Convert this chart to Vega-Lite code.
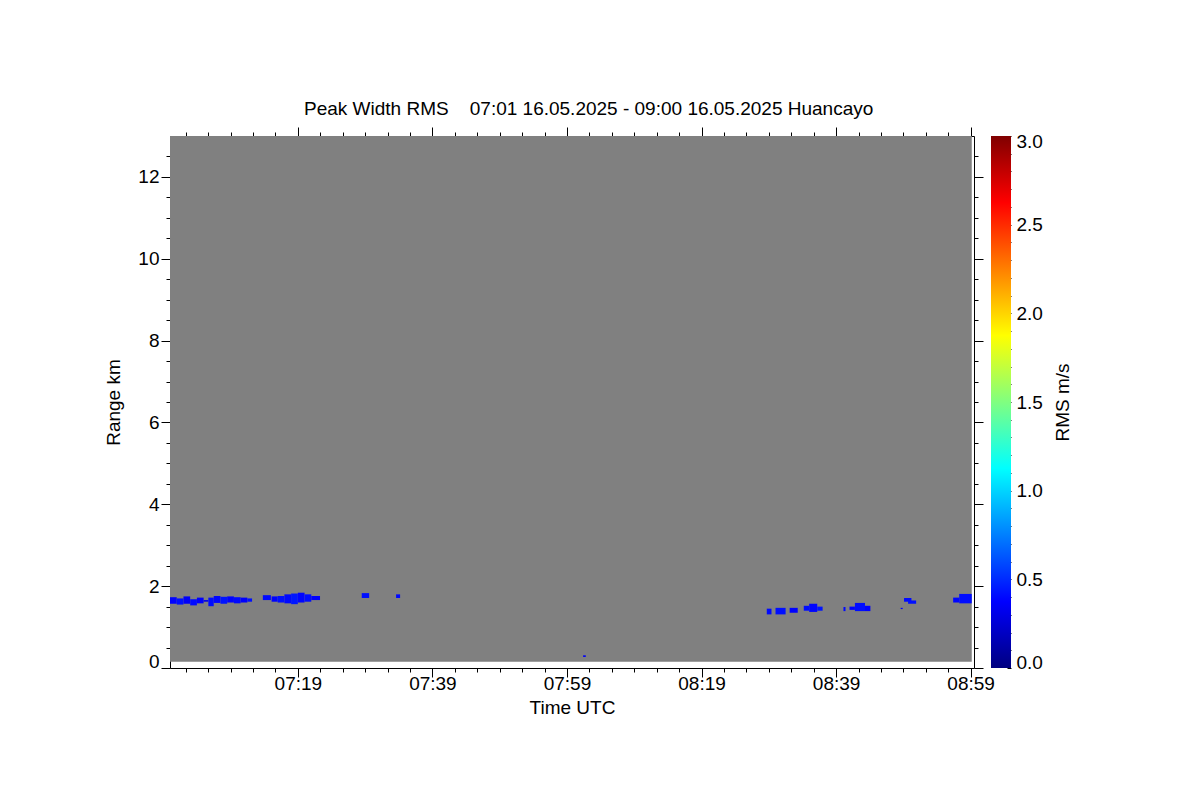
{
  "$schema": "https://vega.github.io/schema/vega-lite/v6.json",
  "background": "white",
  "padding": {"left": 104, "top": 99, "right": 10, "bottom": 10},
  "title": {"text": "Peak Width RMS\u00a0\u00a0\u00a0 07:01 16.05.2025 - 09:00 16.05.2025 Huancayo", "anchor": "middle", "font": "Liberation Sans", "fontSize": 19, "fontWeight": "normal", "color": "black", "offset": 8},
  "config": {
    "view": {"stroke": null},
    "axis": {"labelFont": "Liberation Sans", "titleFont": "Liberation Sans", "labelFontSize": 19, "titleFontSize": 19, "titleFontWeight": "normal", "labelColor": "black", "titleColor": "black", "domainColor": "black", "tickColor": "black", "grid": false, "labelPadding": 2}
  },
  "datasets": {
    "background": [{"start": "2025-05-16T07:00:00", "end": "2025-05-16T08:59:10", "lo": 0.15, "hi": 13}],
    "colorbar": [{"lo": 0, "hi": 3}],
    "cells": [
      {"t0": "2025-05-16T07:00:00", "t1": "2025-05-16T07:01:00", "r0": 1.57, "r1": 1.73, "rms": 0.38},
      {"t0": "2025-05-16T07:01:00", "t1": "2025-05-16T07:02:00", "r0": 1.55, "r1": 1.70, "rms": 0.42},
      {"t0": "2025-05-16T07:02:00", "t1": "2025-05-16T07:03:00", "r0": 1.57, "r1": 1.75, "rms": 0.36},
      {"t0": "2025-05-16T07:03:00", "t1": "2025-05-16T07:04:00", "r0": 1.53, "r1": 1.68, "rms": 0.40},
      {"t0": "2025-05-16T07:04:00", "t1": "2025-05-16T07:05:00", "r0": 1.58, "r1": 1.72, "rms": 0.37},
      {"t0": "2025-05-16T07:05:00", "t1": "2025-05-16T07:05:42", "r0": 1.62, "r1": 1.66, "rms": 0.30},
      {"t0": "2025-05-16T07:05:42", "t1": "2025-05-16T07:06:30", "r0": 1.51, "r1": 1.72, "rms": 0.41},
      {"t0": "2025-05-16T07:06:30", "t1": "2025-05-16T07:07:30", "r0": 1.59, "r1": 1.76, "rms": 0.39},
      {"t0": "2025-05-16T07:07:30", "t1": "2025-05-16T07:08:30", "r0": 1.57, "r1": 1.74, "rms": 0.43},
      {"t0": "2025-05-16T07:08:30", "t1": "2025-05-16T07:09:30", "r0": 1.60, "r1": 1.75, "rms": 0.38},
      {"t0": "2025-05-16T07:09:30", "t1": "2025-05-16T07:10:30", "r0": 1.58, "r1": 1.73, "rms": 0.40},
      {"t0": "2025-05-16T07:10:30", "t1": "2025-05-16T07:11:30", "r0": 1.60, "r1": 1.72, "rms": 0.37},
      {"t0": "2025-05-16T07:11:30", "t1": "2025-05-16T07:12:12", "r0": 1.62, "r1": 1.70, "rms": 0.42},
      {"t0": "2025-05-16T07:13:48", "t1": "2025-05-16T07:15:00", "r0": 1.66, "r1": 1.78, "rms": 0.40},
      {"t0": "2025-05-16T07:15:06", "t1": "2025-05-16T07:16:00", "r0": 1.62, "r1": 1.75, "rms": 0.38},
      {"t0": "2025-05-16T07:16:00", "t1": "2025-05-16T07:17:00", "r0": 1.60, "r1": 1.76, "rms": 0.42},
      {"t0": "2025-05-16T07:17:00", "t1": "2025-05-16T07:18:00", "r0": 1.58, "r1": 1.80, "rms": 0.40},
      {"t0": "2025-05-16T07:18:00", "t1": "2025-05-16T07:19:00", "r0": 1.56, "r1": 1.82, "rms": 0.44},
      {"t0": "2025-05-16T07:19:00", "t1": "2025-05-16T07:20:00", "r0": 1.60, "r1": 1.84, "rms": 0.39},
      {"t0": "2025-05-16T07:20:00", "t1": "2025-05-16T07:21:00", "r0": 1.62, "r1": 1.80, "rms": 0.41},
      {"t0": "2025-05-16T07:21:00", "t1": "2025-05-16T07:22:18", "r0": 1.66, "r1": 1.76, "rms": 0.37},
      {"t0": "2025-05-16T07:28:30", "t1": "2025-05-16T07:29:36", "r0": 1.71, "r1": 1.83, "rms": 0.42},
      {"t0": "2025-05-16T07:33:36", "t1": "2025-05-16T07:34:12", "r0": 1.71, "r1": 1.80, "rms": 0.40},
      {"t0": "2025-05-16T08:01:24", "t1": "2025-05-16T08:01:48", "r0": 0.27, "r1": 0.31, "rms": 0.35},
      {"t0": "2025-05-16T08:28:42", "t1": "2025-05-16T08:29:24", "r0": 1.31, "r1": 1.45, "rms": 0.40},
      {"t0": "2025-05-16T08:30:00", "t1": "2025-05-16T08:31:30", "r0": 1.31, "r1": 1.47, "rms": 0.42},
      {"t0": "2025-05-16T08:32:06", "t1": "2025-05-16T08:33:18", "r0": 1.35, "r1": 1.47, "rms": 0.38},
      {"t0": "2025-05-16T08:34:12", "t1": "2025-05-16T08:35:00", "r0": 1.40, "r1": 1.52, "rms": 0.41},
      {"t0": "2025-05-16T08:35:00", "t1": "2025-05-16T08:36:12", "r0": 1.37, "r1": 1.57, "rms": 0.39},
      {"t0": "2025-05-16T08:36:12", "t1": "2025-05-16T08:37:00", "r0": 1.40, "r1": 1.50, "rms": 0.43},
      {"t0": "2025-05-16T08:40:06", "t1": "2025-05-16T08:40:24", "r0": 1.39, "r1": 1.49, "rms": 0.40},
      {"t0": "2025-05-16T08:41:00", "t1": "2025-05-16T08:41:48", "r0": 1.42, "r1": 1.50, "rms": 0.38},
      {"t0": "2025-05-16T08:41:48", "t1": "2025-05-16T08:43:18", "r0": 1.39, "r1": 1.59, "rms": 0.41},
      {"t0": "2025-05-16T08:43:18", "t1": "2025-05-16T08:44:06", "r0": 1.39, "r1": 1.52, "rms": 0.37},
      {"t0": "2025-05-16T08:48:36", "t1": "2025-05-16T08:48:54", "r0": 1.44, "r1": 1.47, "rms": 0.36},
      {"t0": "2025-05-16T08:49:06", "t1": "2025-05-16T08:50:12", "r0": 1.62, "r1": 1.71, "rms": 0.40},
      {"t0": "2025-05-16T08:49:42", "t1": "2025-05-16T08:50:54", "r0": 1.57, "r1": 1.65, "rms": 0.42},
      {"t0": "2025-05-16T08:56:24", "t1": "2025-05-16T08:57:18", "r0": 1.60, "r1": 1.72, "rms": 0.39},
      {"t0": "2025-05-16T08:57:18", "t1": "2025-05-16T08:59:10", "r0": 1.58, "r1": 1.81, "rms": 0.41}
    ]
  },
  "spacing": 17,
  "bounds": "flush",
  "hconcat": [
    {
      "width": 804,
      "height": 532,
      "layer": [
        {
          "data": {"name": "background"},
          "mark": {"type": "rect", "color": "#808080"},
          "encoding": {
            "x": {"field": "start", "type": "temporal",
              "scale": {"domain": [{"year": 2025, "month": 5, "date": 16, "hours": 7, "minutes": 0, "seconds": 0}, {"year": 2025, "month": 5, "date": 16, "hours": 8, "minutes": 59, "seconds": 30}], "nice": false},
              "axis": {"orient": "bottom", "title": "Time UTC", "titlePadding": 5, "labelPadding": -3,
                "values": [
                  {"year": 2025, "month": 5, "date": 16, "hours": 7, "minutes": 2, "seconds": 20},
                  {"year": 2025, "month": 5, "date": 16, "hours": 7, "minutes": 5, "seconds": 40},
                  {"year": 2025, "month": 5, "date": 16, "hours": 7, "minutes": 9, "seconds": 0},
                  {"year": 2025, "month": 5, "date": 16, "hours": 7, "minutes": 12, "seconds": 20},
                  {"year": 2025, "month": 5, "date": 16, "hours": 7, "minutes": 15, "seconds": 40},
                  {"year": 2025, "month": 5, "date": 16, "hours": 7, "minutes": 19, "seconds": 0},
                  {"year": 2025, "month": 5, "date": 16, "hours": 7, "minutes": 22, "seconds": 20},
                  {"year": 2025, "month": 5, "date": 16, "hours": 7, "minutes": 25, "seconds": 40},
                  {"year": 2025, "month": 5, "date": 16, "hours": 7, "minutes": 29, "seconds": 0},
                  {"year": 2025, "month": 5, "date": 16, "hours": 7, "minutes": 32, "seconds": 20},
                  {"year": 2025, "month": 5, "date": 16, "hours": 7, "minutes": 35, "seconds": 40},
                  {"year": 2025, "month": 5, "date": 16, "hours": 7, "minutes": 39, "seconds": 0},
                  {"year": 2025, "month": 5, "date": 16, "hours": 7, "minutes": 42, "seconds": 20},
                  {"year": 2025, "month": 5, "date": 16, "hours": 7, "minutes": 45, "seconds": 40},
                  {"year": 2025, "month": 5, "date": 16, "hours": 7, "minutes": 49, "seconds": 0},
                  {"year": 2025, "month": 5, "date": 16, "hours": 7, "minutes": 52, "seconds": 20},
                  {"year": 2025, "month": 5, "date": 16, "hours": 7, "minutes": 55, "seconds": 40},
                  {"year": 2025, "month": 5, "date": 16, "hours": 7, "minutes": 59, "seconds": 0},
                  {"year": 2025, "month": 5, "date": 16, "hours": 8, "minutes": 2, "seconds": 20},
                  {"year": 2025, "month": 5, "date": 16, "hours": 8, "minutes": 5, "seconds": 40},
                  {"year": 2025, "month": 5, "date": 16, "hours": 8, "minutes": 9, "seconds": 0},
                  {"year": 2025, "month": 5, "date": 16, "hours": 8, "minutes": 12, "seconds": 20},
                  {"year": 2025, "month": 5, "date": 16, "hours": 8, "minutes": 15, "seconds": 40},
                  {"year": 2025, "month": 5, "date": 16, "hours": 8, "minutes": 19, "seconds": 0},
                  {"year": 2025, "month": 5, "date": 16, "hours": 8, "minutes": 22, "seconds": 20},
                  {"year": 2025, "month": 5, "date": 16, "hours": 8, "minutes": 25, "seconds": 40},
                  {"year": 2025, "month": 5, "date": 16, "hours": 8, "minutes": 29, "seconds": 0},
                  {"year": 2025, "month": 5, "date": 16, "hours": 8, "minutes": 32, "seconds": 20},
                  {"year": 2025, "month": 5, "date": 16, "hours": 8, "minutes": 35, "seconds": 40},
                  {"year": 2025, "month": 5, "date": 16, "hours": 8, "minutes": 39, "seconds": 0},
                  {"year": 2025, "month": 5, "date": 16, "hours": 8, "minutes": 42, "seconds": 20},
                  {"year": 2025, "month": 5, "date": 16, "hours": 8, "minutes": 45, "seconds": 40},
                  {"year": 2025, "month": 5, "date": 16, "hours": 8, "minutes": 49, "seconds": 0},
                  {"year": 2025, "month": 5, "date": 16, "hours": 8, "minutes": 52, "seconds": 20},
                  {"year": 2025, "month": 5, "date": 16, "hours": 8, "minutes": 55, "seconds": 40},
                  {"year": 2025, "month": 5, "date": 16, "hours": 8, "minutes": 59, "seconds": 0}
                ],
                "labelExpr": "(minutes(datum.value) % 20 == 19 && seconds(datum.value) == 0) ? timeFormat(datum.value, '%H:%M') : ''",
                "tickSize": {"condition": {"test": "minutes(datum.value) % 20 == 19 && seconds(datum.value) == 0", "value": 9}, "value": 4}
              }
            },
            "x2": {"field": "end"},
            "y": {"field": "lo", "type": "quantitative",
              "scale": {"domain": [0, 13], "nice": false, "zero": false},
              "axis": {"orient": "left", "title": "Range km", "titlePadding": 14, "labelFlush": true, "labelFlushOffset": 3,
                "values": [0, 0.5, 1, 1.5, 2, 2.5, 3, 3.5, 4, 4.5, 5, 5.5, 6, 6.5, 7, 7.5, 8, 8.5, 9, 9.5, 10, 10.5, 11, 11.5, 12, 12.5],
                "labelExpr": "datum.value % 2 == 0 ? format(datum.value, 'd') : ''",
                "tickSize": {"condition": {"test": "datum.value % 2 == 0", "value": 9}, "value": 4}
              }
            },
            "y2": {"field": "hi"}
          }
        },
        {
          "data": {"name": "cells"},
          "mark": {"type": "rect"},
          "encoding": {
            "x": {"field": "t0", "type": "temporal",
              "axis": {"orient": "top", "title": null, "labels": false,
                "values": [
                  {"year": 2025, "month": 5, "date": 16, "hours": 7, "minutes": 2, "seconds": 20},
                  {"year": 2025, "month": 5, "date": 16, "hours": 7, "minutes": 5, "seconds": 40},
                  {"year": 2025, "month": 5, "date": 16, "hours": 7, "minutes": 9, "seconds": 0},
                  {"year": 2025, "month": 5, "date": 16, "hours": 7, "minutes": 12, "seconds": 20},
                  {"year": 2025, "month": 5, "date": 16, "hours": 7, "minutes": 15, "seconds": 40},
                  {"year": 2025, "month": 5, "date": 16, "hours": 7, "minutes": 19, "seconds": 0},
                  {"year": 2025, "month": 5, "date": 16, "hours": 7, "minutes": 22, "seconds": 20},
                  {"year": 2025, "month": 5, "date": 16, "hours": 7, "minutes": 25, "seconds": 40},
                  {"year": 2025, "month": 5, "date": 16, "hours": 7, "minutes": 29, "seconds": 0},
                  {"year": 2025, "month": 5, "date": 16, "hours": 7, "minutes": 32, "seconds": 20},
                  {"year": 2025, "month": 5, "date": 16, "hours": 7, "minutes": 35, "seconds": 40},
                  {"year": 2025, "month": 5, "date": 16, "hours": 7, "minutes": 39, "seconds": 0},
                  {"year": 2025, "month": 5, "date": 16, "hours": 7, "minutes": 42, "seconds": 20},
                  {"year": 2025, "month": 5, "date": 16, "hours": 7, "minutes": 45, "seconds": 40},
                  {"year": 2025, "month": 5, "date": 16, "hours": 7, "minutes": 49, "seconds": 0},
                  {"year": 2025, "month": 5, "date": 16, "hours": 7, "minutes": 52, "seconds": 20},
                  {"year": 2025, "month": 5, "date": 16, "hours": 7, "minutes": 55, "seconds": 40},
                  {"year": 2025, "month": 5, "date": 16, "hours": 7, "minutes": 59, "seconds": 0},
                  {"year": 2025, "month": 5, "date": 16, "hours": 8, "minutes": 2, "seconds": 20},
                  {"year": 2025, "month": 5, "date": 16, "hours": 8, "minutes": 5, "seconds": 40},
                  {"year": 2025, "month": 5, "date": 16, "hours": 8, "minutes": 9, "seconds": 0},
                  {"year": 2025, "month": 5, "date": 16, "hours": 8, "minutes": 12, "seconds": 20},
                  {"year": 2025, "month": 5, "date": 16, "hours": 8, "minutes": 15, "seconds": 40},
                  {"year": 2025, "month": 5, "date": 16, "hours": 8, "minutes": 19, "seconds": 0},
                  {"year": 2025, "month": 5, "date": 16, "hours": 8, "minutes": 22, "seconds": 20},
                  {"year": 2025, "month": 5, "date": 16, "hours": 8, "minutes": 25, "seconds": 40},
                  {"year": 2025, "month": 5, "date": 16, "hours": 8, "minutes": 29, "seconds": 0},
                  {"year": 2025, "month": 5, "date": 16, "hours": 8, "minutes": 32, "seconds": 20},
                  {"year": 2025, "month": 5, "date": 16, "hours": 8, "minutes": 35, "seconds": 40},
                  {"year": 2025, "month": 5, "date": 16, "hours": 8, "minutes": 39, "seconds": 0},
                  {"year": 2025, "month": 5, "date": 16, "hours": 8, "minutes": 42, "seconds": 20},
                  {"year": 2025, "month": 5, "date": 16, "hours": 8, "minutes": 45, "seconds": 40},
                  {"year": 2025, "month": 5, "date": 16, "hours": 8, "minutes": 49, "seconds": 0},
                  {"year": 2025, "month": 5, "date": 16, "hours": 8, "minutes": 52, "seconds": 20},
                  {"year": 2025, "month": 5, "date": 16, "hours": 8, "minutes": 55, "seconds": 40},
                  {"year": 2025, "month": 5, "date": 16, "hours": 8, "minutes": 59, "seconds": 0}
                ],
                "tickSize": {"condition": {"test": "minutes(datum.value) % 20 == 19 && seconds(datum.value) == 0", "value": 9}, "value": 4}
              }
            },
            "x2": {"field": "t1"},
            "y": {"field": "r0", "type": "quantitative",
              "axis": {"orient": "right", "title": null, "labels": false,
                "values": [0, 0.5, 1, 1.5, 2, 2.5, 3, 3.5, 4, 4.5, 5, 5.5, 6, 6.5, 7, 7.5, 8, 8.5, 9, 9.5, 10, 10.5, 11, 11.5, 12, 12.5],
                "tickSize": {"condition": {"test": "datum.value % 2 == 0", "value": 9}, "value": 4}
              }
            },
            "y2": {"field": "r1"},
            "color": {"field": "rms", "type": "quantitative",
              "scale": {"domain": [0, 0.375, 1.125, 1.5, 1.875, 2.625, 3], "range": ["#000080", "#0000ff", "#00ffff", "#80ff80", "#ffff00", "#ff0000", "#800000"], "interpolate": "rgb"},
              "legend": null
            }
          }
        }
      ],
      "resolve": {"axis": {"x": "independent", "y": "independent"}}
    },
    {
      "width": 20,
      "height": 532,
      "data": {"name": "colorbar"},
      "mark": {"type": "rect", "color": {"gradient": "linear", "x1": 0, "y1": 1, "x2": 0, "y2": 0,
        "stops": [
          {"offset": 0, "color": "#000080"},
          {"offset": 0.125, "color": "#0000ff"},
          {"offset": 0.375, "color": "#00ffff"},
          {"offset": 0.5, "color": "#80ff80"},
          {"offset": 0.625, "color": "#ffff00"},
          {"offset": 0.875, "color": "#ff0000"},
          {"offset": 1, "color": "#800000"}
        ]}},
      "encoding": {
        "y": {"field": "lo", "type": "quantitative",
          "scale": {"domain": [0, 3], "nice": false},
          "axis": {"orient": "right", "title": "RMS m/s", "titleAngle": 270, "titlePadding": 30, "domain": false, "labelFlush": true, "labelFlushOffset": 4,
            "tickSize": -4, "labelPadding": 9,
            "values": [0, 0.1, 0.2, 0.3, 0.4, 0.5, 0.6, 0.7, 0.8, 0.9, 1, 1.1, 1.2, 1.3, 1.4, 1.5, 1.6, 1.7, 1.8, 1.9, 2, 2.1, 2.2, 2.3, 2.4, 2.5, 2.6, 2.7, 2.8, 2.9, 3],
            "labelExpr": "(round(datum.value * 10) % 5 == 0) ? format(datum.value, '.1f') : ''"
          }
        },
        "y2": {"field": "hi"}
      }
    }
  ]
}
